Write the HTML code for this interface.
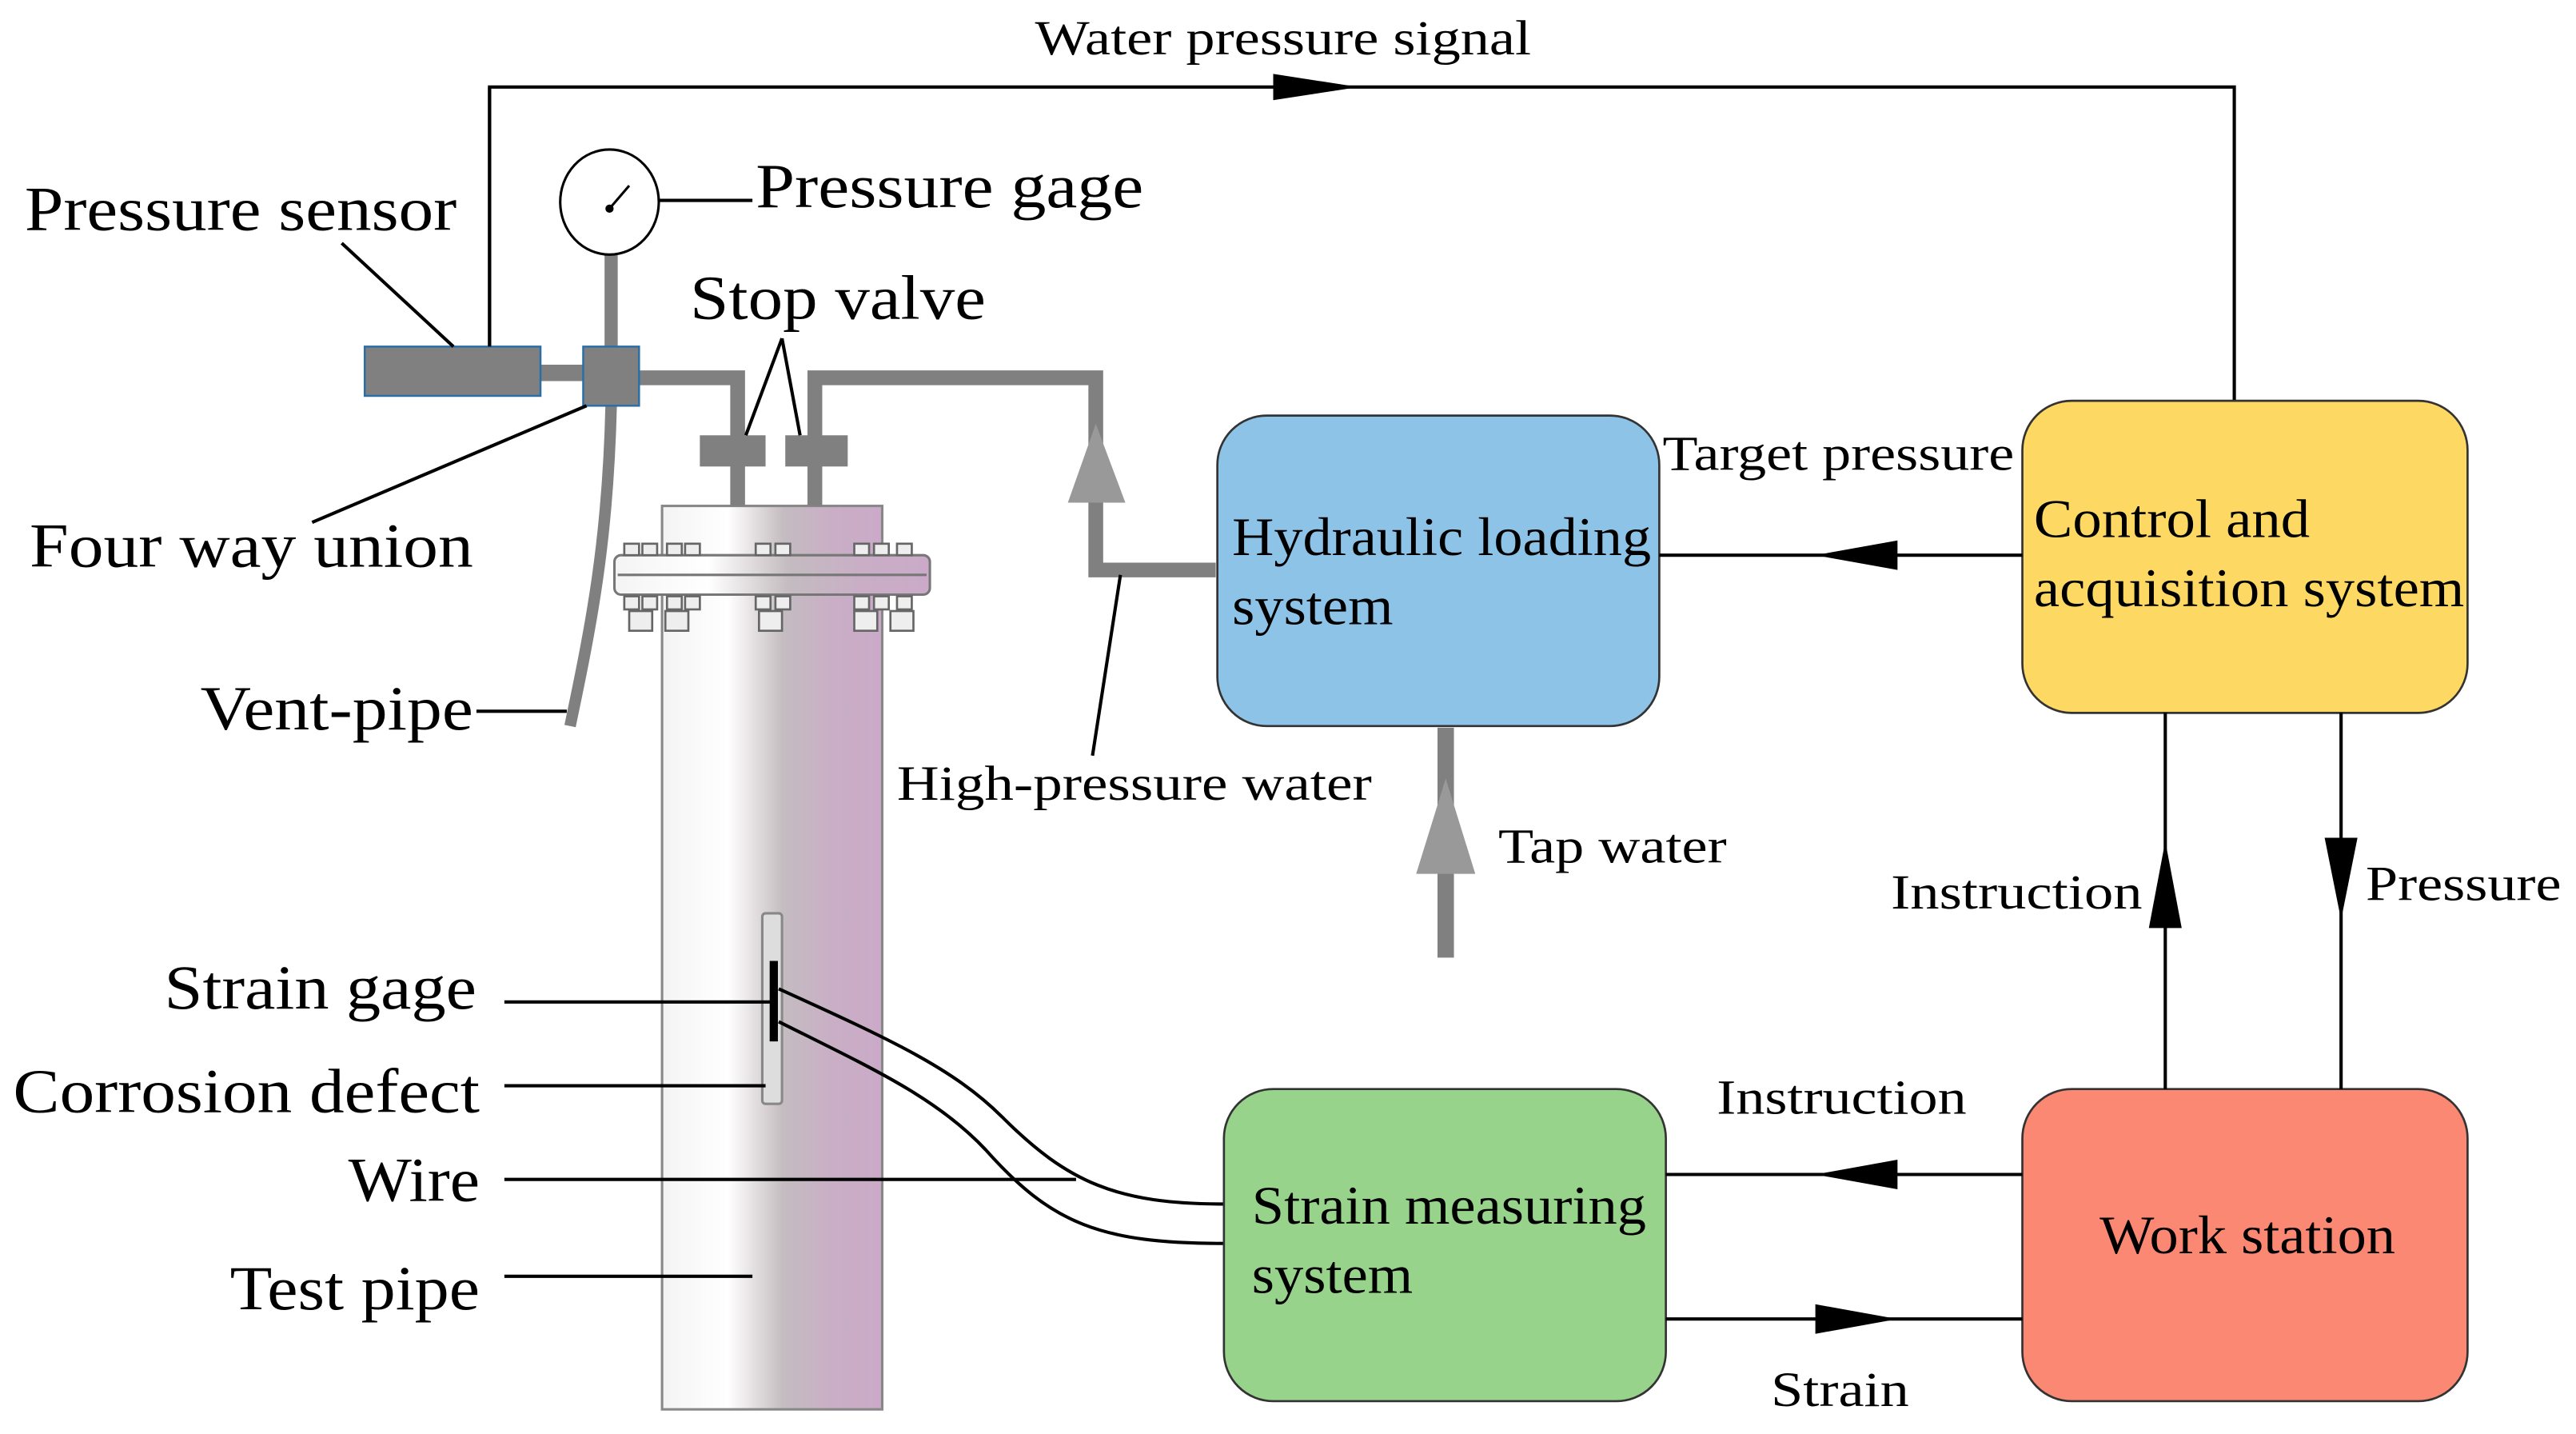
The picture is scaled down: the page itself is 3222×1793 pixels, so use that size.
<!DOCTYPE html>
<html><head><meta charset="utf-8"><style>
html,body{margin:0;padding:0;background:#fff;}
svg{display:block;}
text{font-family:"Liberation Serif","Times New Roman",serif;fill:#000;}
</style></head><body>
<svg width="3222" height="1793" viewBox="0 0 1568 873" preserveAspectRatio="none" font-family="Liberation Serif, Times New Roman, serif" xmlns="http://www.w3.org/2000/svg">
<defs>
<linearGradient id="tg" x1="0" x2="1" y1="0" y2="0">
<stop offset="0" stop-color="#f4f4f4"/>
<stop offset="0.3" stop-color="#ffffff"/>
<stop offset="0.55" stop-color="#c4bcc0"/>
<stop offset="0.78" stop-color="#c9aec6"/>
<stop offset="1" stop-color="#caaac8"/>
</linearGradient>
</defs>
<polyline points="298,211 298,53 1360,53 1360,244" fill="none" stroke="#000" stroke-width="2"/>
<polygon points="775,45 827,53 775,61" fill="#000"/>
<text x="630" y="33" font-size="30" textLength="302" lengthAdjust="spacingAndGlyphs">Water pressure signal</text>

<rect x="403" y="308" width="134" height="550" fill="url(#tg)" stroke="#888" stroke-width="1.5"/>
<rect x="374" y="338" width="192" height="24" rx="4" fill="url(#tg)" stroke="#777" stroke-width="1.5"/>
<line x1="376" y1="350" x2="564" y2="350" stroke="#777" stroke-width="1.5"/>
<g fill="#eee" stroke="#666" stroke-width="1.3">
<rect x="380" y="331" width="9" height="7"/><rect x="391" y="331" width="9" height="7"/><rect x="406" y="331" width="9" height="7"/><rect x="417" y="331" width="9" height="7"/>
<rect x="460" y="331" width="9" height="7"/><rect x="472" y="331" width="9" height="7"/>
<rect x="520" y="331" width="9" height="7"/><rect x="532" y="331" width="9" height="7"/><rect x="546" y="331" width="9" height="7"/>
<rect x="380" y="363" width="9" height="8"/><rect x="391" y="363" width="9" height="8"/><rect x="406" y="363" width="9" height="8"/><rect x="417" y="363" width="9" height="8"/>
<rect x="460" y="363" width="9" height="8"/><rect x="472" y="363" width="9" height="8"/>
<rect x="520" y="363" width="9" height="8"/><rect x="532" y="363" width="9" height="8"/><rect x="546" y="363" width="9" height="8"/>
<rect x="383" y="372" width="14" height="12"/><rect x="405" y="372" width="14" height="12"/><rect x="462" y="372" width="14" height="12"/><rect x="520" y="372" width="14" height="12"/><rect x="542" y="372" width="14" height="12"/>
</g>
<rect x="464" y="556" width="12" height="116" rx="2" fill="#ddd" stroke="#888" stroke-width="1.5"/>
<line x1="471" y1="585" x2="471" y2="634" stroke="#000" stroke-width="5"/>

<g stroke="#808080" fill="none" stroke-linejoin="miter">
<line x1="329" y1="227" x2="355" y2="227" stroke-width="10"/>
<polyline points="389,230 449,230 449,308" stroke-width="9"/>
<polyline points="496,308 496,230 667,230 667,347 740,347" stroke-width="9"/>
<line x1="372" y1="153" x2="372" y2="211" stroke-width="8"/>
<path d="M372,247 C370,330 360,380 347,442" stroke-width="7"/>
<line x1="880" y1="443" x2="880" y2="583" stroke-width="10"/>
</g>
<polygon points="667,258 650,306 685,306" fill="#999"/>
<polygon points="880,474 862,532 898,532" fill="#999"/>
<rect x="426" y="265" width="40" height="19" fill="#808080"/>
<rect x="478" y="265" width="38" height="19" fill="#808080"/>
<rect x="222" y="211" width="107" height="30" fill="#808080" stroke="#2a6ea8" stroke-width="1.2"/>
<rect x="355" y="211" width="34" height="36" fill="#808080" stroke="#2a6ea8" stroke-width="1.2"/>
<line x1="298" y1="53" x2="298" y2="211" stroke="#000" stroke-width="2"/>

<ellipse cx="371" cy="123" rx="30" ry="32" fill="#fff" stroke="#000" stroke-width="1.5"/>
<line x1="371" y1="127" x2="383" y2="113" stroke="#000" stroke-width="1.5"/>
<circle cx="371" cy="127" r="2.5" fill="#000"/>
<line x1="401" y1="122" x2="458" y2="122" stroke="#000" stroke-width="2"/>
<text x="460" y="126" font-size="38" textLength="236" lengthAdjust="spacingAndGlyphs">Pressure gage</text>

<g stroke="#000" stroke-width="2" fill="none">
<line x1="208" y1="148" x2="276" y2="211"/>
<line x1="190" y1="318" x2="357" y2="247"/>
<line x1="290" y1="433" x2="345" y2="433"/>
<line x1="476" y1="206" x2="454" y2="265"/>
<line x1="476" y1="206" x2="487" y2="265"/>
<line x1="307" y1="610" x2="470" y2="610"/>
<line x1="307" y1="661" x2="466" y2="661"/>
<line x1="307" y1="718" x2="655" y2="718"/>
<line x1="307" y1="777" x2="458" y2="777"/>
<line x1="665" y1="460" x2="682" y2="350"/>
<path d="M474,602 C540,632 580,650 610,680 C650,720 680,733 745,733"/>
<path d="M474,622 C530,650 570,668 600,700 C640,745 670,757 745,757"/>
</g>
<text x="15" y="140" font-size="38" textLength="263" lengthAdjust="spacingAndGlyphs">Pressure sensor</text>
<text x="420" y="194" font-size="38" textLength="180" lengthAdjust="spacingAndGlyphs">Stop valve</text>
<text x="18" y="345" font-size="38" textLength="270" lengthAdjust="spacingAndGlyphs">Four way union</text>
<text x="122" y="444" font-size="38" textLength="166" lengthAdjust="spacingAndGlyphs">Vent-pipe</text>
<text x="546" y="487" font-size="30" textLength="289" lengthAdjust="spacingAndGlyphs">High-pressure water</text>
<text x="100" y="614" font-size="38" textLength="190" lengthAdjust="spacingAndGlyphs">Strain gage</text>
<text x="8" y="677" font-size="38" textLength="284" lengthAdjust="spacingAndGlyphs">Corrosion defect</text>
<text x="212" y="731" font-size="38" textLength="80" lengthAdjust="spacingAndGlyphs">Wire</text>
<text x="140" y="797" font-size="38" textLength="152" lengthAdjust="spacingAndGlyphs">Test pipe</text>

<rect x="741" y="253" width="269" height="189" rx="30" fill="#8EC3E8" stroke="#333" stroke-width="1.3"/>
<rect x="1231" y="244" width="271" height="190" rx="30" fill="#FDD862" stroke="#333" stroke-width="1.3"/>
<rect x="745" y="663" width="269" height="190" rx="30" fill="#97D38A" stroke="#333" stroke-width="1.3"/>
<rect x="1231" y="663" width="271" height="190" rx="30" fill="#FA8872" stroke="#333" stroke-width="1.3"/>
<text x="750" y="338" font-size="33" textLength="255" lengthAdjust="spacingAndGlyphs">Hydraulic loading</text>
<text x="750" y="380" font-size="33" textLength="98" lengthAdjust="spacingAndGlyphs">system</text>
<text x="1238" y="327" font-size="33" textLength="168" lengthAdjust="spacingAndGlyphs">Control and</text>
<text x="1238" y="369" font-size="33" textLength="262" lengthAdjust="spacingAndGlyphs">acquisition system</text>
<text x="762" y="745" font-size="33" textLength="240" lengthAdjust="spacingAndGlyphs">Strain measuring</text>
<text x="762" y="787" font-size="33" textLength="98" lengthAdjust="spacingAndGlyphs">system</text>
<text x="1278" y="763" font-size="33" textLength="180" lengthAdjust="spacingAndGlyphs">Work station</text>

<g stroke="#000" stroke-width="2">
<line x1="1010" y1="338" x2="1231" y2="338"/>
<line x1="1318" y1="434" x2="1318" y2="663"/>
<line x1="1425" y1="434" x2="1425" y2="663"/>
<line x1="1014" y1="715" x2="1231" y2="715"/>
<line x1="1014" y1="803" x2="1231" y2="803"/>
</g>
<polygon points="1105,338 1155,329 1155,347" fill="#000"/>
<polygon points="1105,715 1155,706 1155,724" fill="#000"/>
<polygon points="1155,803 1105,794 1105,812" fill="#000"/>
<polygon points="1318,512 1308,565 1328,565" fill="#000"/>
<polygon points="1425,560 1415,510 1435,510" fill="#000"/>
<text x="1012" y="286" font-size="30" textLength="214" lengthAdjust="spacingAndGlyphs">Target pressure</text>
<text x="912" y="525" font-size="30" textLength="139" lengthAdjust="spacingAndGlyphs">Tap water</text>
<text x="1151" y="553" font-size="30" textLength="153" lengthAdjust="spacingAndGlyphs">Instruction</text>
<text x="1440" y="548" font-size="30" textLength="119" lengthAdjust="spacingAndGlyphs">Pressure</text>
<text x="1045" y="678" font-size="30" textLength="152" lengthAdjust="spacingAndGlyphs">Instruction</text>
<text x="1078" y="856" font-size="30" textLength="84" lengthAdjust="spacingAndGlyphs">Strain</text>
</svg>
</body></html>
